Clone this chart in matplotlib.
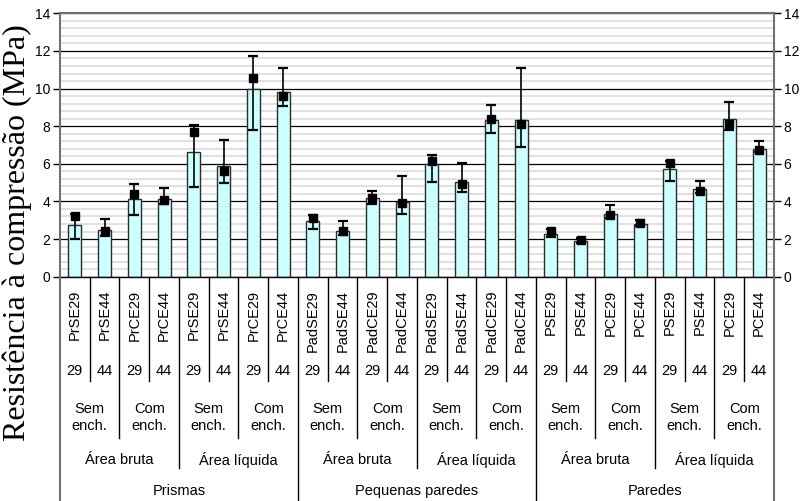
import numpy as np
import matplotlib
matplotlib.use("Agg")
import matplotlib.pyplot as plt
from matplotlib.ticker import MultipleLocator

# Specimen codes (one bar each)
categories = ["PrSE29", "PrSE44", "PrCE29", "PrCE44", "PrSE29", "PrSE44", "PrCE29", "PrCE44",
              "PadSE29", "PadSE44", "PadCE29", "PadCE44", "PadSE29", "PadSE44", "PadCE29", "PadCE44",
              "PSE29", "PSE44", "PCE29", "PCE44", "PSE29", "PSE44", "PCE29", "PCE44"]
block_numbers = ["29", "44"] * 12
fill_labels = ["Sem\nench.", "Com\nench."] * 6
area_labels = ["Área bruta", "Área líquida"] * 3
element_labels = ["Prismas", "Pequenas paredes", "Paredes"]

# Compressive strength (MPa)
bar_values = [2.75, 2.50, 4.11, 4.11, 6.61, 5.88, 9.96, 9.80,
              2.94, 2.43, 4.17, 3.99, 5.99, 5.03, 8.31, 8.31,
              2.27, 1.90, 3.33, 2.80, 5.71, 4.65, 8.38, 6.81]
point_values = [3.22, 2.43, 4.38, 4.10, 7.68, 5.64, 10.55, 9.62,
                3.14, 2.43, 4.18, 3.92, 6.15, 4.91, 8.38, 8.13,
                2.45, 1.95, 3.28, 2.87, 6.03, 4.57, 8.12, 6.74]
range_low = [2.02, 2.16, 3.28, 3.87, 4.79, 5.00, 7.79, 9.09,
             2.55, 2.22, 3.87, 3.33, 5.03, 4.52, 7.66, 6.88,
             2.09, 1.77, 3.10, 2.69, 5.09, 4.47, 7.80, 6.61]
range_high = [3.32, 3.07, 4.93, 4.70, 8.05, 7.27, 11.73, 11.08,
              3.28, 2.94, 4.57, 5.37, 6.49, 6.03, 9.11, 11.08,
              2.52, 2.07, 3.81, 3.01, 6.17, 5.10, 9.30, 7.21]

W, H = 804, 501
fig = plt.figure(figsize=(W / 100, H / 100), dpi=100)
plt.rcParams["font.family"] = ["Liberation Sans", "DejaVu Sans"]

x_left, x_right = 60, 774
y_top, y_bottom = 13.3, 276.7
ax = fig.add_axes([x_left / W, 1 - y_bottom / H, (x_right - x_left) / W, (y_bottom - y_top) / H])

x = np.arange(len(categories))
vals = np.array(bar_values)
ax.bar(x, vals, width=0.43, color="#CCFFFF", edgecolor="#2b2b2b", linewidth=1.0, zorder=2)
lo = vals - np.array(range_low)
hi = np.array(range_high) - vals
ax.errorbar(x, vals, yerr=[lo, hi], fmt="none", ecolor="black", elinewidth=1.2,
            capsize=3.3, capthick=1.6, zorder=3)
ax.plot(x, point_values, linestyle="none", marker="s", markersize=5.6,
        color="black", zorder=4)

ax.set_xlim(-0.5, len(categories) - 0.5)
ax.set_ylim(0, 14)
ax.yaxis.set_major_locator(MultipleLocator(2))
ax.yaxis.set_minor_locator(MultipleLocator(0.4))
ax.set_axisbelow(True)
ax.grid(which="major", axis="y", color="black", linewidth=0.9)
ax.grid(which="minor", axis="y", color="#d8d8d8", linewidth=1.1)
ax.set_xticks([])
ax.tick_params(axis="y", which="major", left=True, right=True, labelleft=True,
               labelright=True, direction="out", length=5, width=1.0,
               labelsize=10, pad=2, colors="black")
ax.tick_params(axis="y", which="minor", length=0)
for side in ("top", "left", "right"):
    ax.spines[side].set_color("#707070")
    ax.spines[side].set_linewidth(1.5)
ax.spines["bottom"].set_color("black")
ax.spines["bottom"].set_linewidth(1.0)

fig.text(17 / W, 1 - 233 / H, "Resistência à compressão (MPa)", rotation=90,
         ha="center", va="center", fontsize=23,
         family=["Liberation Serif", "DejaVu Serif"])

# Multi-level category table under the plot
tab_h = H - y_bottom
tab = fig.add_axes([x_left / W, 0, (x_right - x_left) / W, tab_h / H])
tab.set_xlim(-0.5, len(categories) - 0.5)
tab.set_ylim(tab_h, 0)
tab.axis("off")

fs = 10.5
n = len(categories)
line_kw = dict(color="black", linewidth=1.0, clip_on=False)
for i in range(n - 1):
    b = i + 0.5
    if (i + 1) % 8 == 0:
        end = tab_h
    elif (i + 1) % 4 == 0:
        end = 191
    elif (i + 1) % 2 == 0:
        end = 161
    else:
        end = 104
    tab.plot([b, b], [0, end], **line_kw)
for b in (-0.5, n - 0.5):
    tab.plot([b, b], [0, tab_h], color="#707070", linewidth=1.5, clip_on=False)

for i, name in enumerate(categories):
    tab.text(i, 13, name, rotation=90, ha="center", va="top", fontsize=fs)
    tab.text(i, 94, block_numbers[i], ha="center", va="center", fontsize=fs)
for j, lab in enumerate(fill_labels):
    tab.text(2 * j + 0.5, 141, lab, ha="center", va="center", fontsize=fs,
             linespacing=1.25)
for j, lab in enumerate(area_labels):
    tab.text(4 * j + 1.5, 183, lab, ha="center", va="center", fontsize=fs)
for j, lab in enumerate(element_labels):
    tab.text(8 * j + 3.5, 214, lab, ha="center", va="center", fontsize=fs)

fig.savefig("out.png", dpi=100)
